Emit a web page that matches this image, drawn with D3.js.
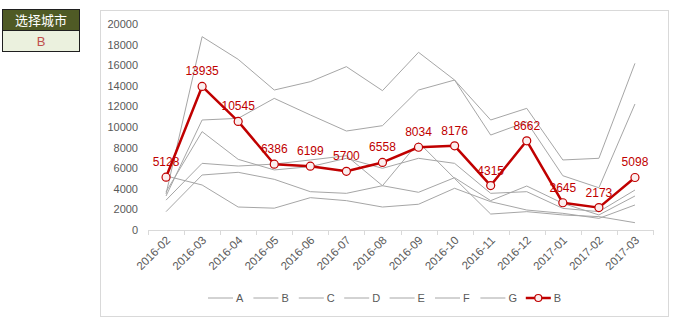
<!DOCTYPE html>
<html><head><meta charset="utf-8">
<script src="https://cdn.jsdelivr.net/npm/d3@7"></script>
<style>
html,body{margin:0;padding:0;background:#fff;}
svg{display:block;font-family:"Liberation Sans",Arial,sans-serif;}
</style></head>
<body><svg id="chart" width="686" height="329"></svg>
<script>
const categories = ["2016-02","2016-03","2016-04","2016-05","2016-06","2016-07","2016-08","2016-09","2016-10","2016-11","2016-12","2017-01","2017-02","2017-03"];
const seriesA = [3500,18770,16570,13590,14400,15860,13530,17250,14560,10680,11810,6800,6960,16180];
const seriesB = [5128,13935,10545,6386,6199,5700,6558,8034,8176,4315,8662,2645,2173,5098];
const seriesC = [3300,10680,10840,12780,11170,9610,10130,13590,14560,9220,10500,5270,4100,12230];
const seriesD = [3700,9550,6860,5830,6150,6960,5990,6960,6470,3560,3720,2100,1780,3880];
const seriesE = [2900,6470,6210,6400,6800,7210,4300,8510,5000,1550,1780,1460,1300,710];
const seriesF = [1780,5340,5600,4920,3720,3560,4300,3660,5080,2850,4270,2590,1460,3300];
const seriesG = [5250,4370,2230,2120,3140,2850,2230,2500,4050,2750,1940,1620,1130,2430];
const grayNames = ["A","B","C","D","E","F","G"];
const graySeries = [seriesA,seriesB,seriesC,seriesD,seriesE,seriesF,seriesG];
const selectedName = "B";
const selectedValues = seriesB;
const yTicks = [0,2000,4000,6000,8000,10000,12000,14000,16000,18000,20000];
const selectorTitle = "选择城市";

const svg = d3.select("#chart");

// selector box
const sel = svg.append("g");
sel.append("rect").attr("x",2.5).attr("y",9.5).attr("width",77).attr("height",21).attr("fill","#4f5a25");
sel.append("rect").attr("x",2.5).attr("y",30.5).attr("width",77).attr("height",21).attr("fill","#ebf1de");
sel.append("rect").attr("x",2.5).attr("y",9.5).attr("width",77).attr("height",42).attr("fill","none").attr("stroke","#1f1f1f").attr("stroke-width",1);
sel.append("line").attr("x1",2.5).attr("x2",79.5).attr("y1",30.5).attr("y2",30.5).attr("stroke","#1f1f1f");
sel.append("text").attr("x",41).attr("y",20.5).attr("dy","0.35em").attr("text-anchor","middle")
  .attr("fill","#fff").style("font-family","'Noto Sans CJK SC',sans-serif").style("font-size","13px").text(selectorTitle);
sel.append("text").attr("x",41).attr("y",41.5).attr("dy","0.35em").attr("text-anchor","middle")
  .attr("fill","#c0504d").style("font-size","13px").text(selectedName);

// chart border
svg.append("rect").attr("x",100.5).attr("y",10.5).attr("width",568).attr("height",306)
  .attr("fill","#fff").attr("stroke","#d9d9d9");

const x = d3.scaleBand().domain(categories).range([148,653]).padding(0);
const cx = d => x(d) + x.bandwidth()/2;
const y = d3.scaleLinear().domain([0,20000]).range([230,24]);

// y axis
const yAxis = svg.append("g").attr("transform","translate(138,0)")
  .call(d3.axisLeft(y).tickValues(yTicks).tickSize(0).tickPadding(0).tickFormat(d3.format("d")));
yAxis.select(".domain").remove();
yAxis.selectAll("text").attr("fill","#595959").style("font-size","11px").style("font-family","'Liberation Sans',Arial,sans-serif");

// x axis line and boundary ticks
const xg = svg.append("g");
xg.append("line").attr("x1",x.range()[0]).attr("x2",x.range()[1]).attr("y1",y(0)+0.5).attr("y2",y(0)+0.5).attr("stroke","#d9d9d9");
const bounds = categories.map(c => x(c)).concat([x.range()[1]]);
xg.selectAll("line.tk").data(bounds).join("line").attr("class","tk")
  .attr("x1",d=>Math.round(d)+0.5).attr("x2",d=>Math.round(d)+0.5).attr("y1",y(0)).attr("y2",y(0)+5).attr("stroke","#d9d9d9");
// x labels through axis
const xAxis = svg.append("g").attr("transform",`translate(0,${y(0)})`)
  .call(d3.axisBottom(x).tickSize(0).tickPadding(0));
xAxis.select(".domain").remove();
xAxis.selectAll("text")
  .attr("fill","#595959").style("font-size","11.5px").style("font-family","'Liberation Sans',Arial,sans-serif")
  .attr("text-anchor","end").attr("dy",null).attr("y",0)
  .attr("transform","translate(5,11) rotate(-45)");

const line = d3.line().x((d,i)=>cx(categories[i])).y(d=>y(d));

// gray lines
svg.append("g").selectAll("path").data(graySeries).join("path")
  .attr("d",line).attr("fill","none").attr("stroke","#a6a6a6").attr("stroke-width",1);

// selected series
svg.append("path").datum(selectedValues).attr("d",line).attr("fill","none")
  .attr("stroke","#c00000").attr("stroke-width",2.5).attr("stroke-linejoin","round");
svg.append("g").selectAll("circle").data(selectedValues).join("circle")
  .attr("cx",(d,i)=>cx(categories[i])).attr("cy",d=>y(d)).attr("r",4)
  .attr("fill","#fbeeee").attr("stroke","#c00000").attr("stroke-width",1.2);
svg.append("g").selectAll("text").data(selectedValues).join("text")
  .attr("x",(d,i)=>cx(categories[i])).attr("y",d=>y(d)-11)
  .attr("text-anchor","middle").attr("fill","#c00000").style("font-size","12px")
  .text(d=>d);

// legend
const legendItems = grayNames.map(n=>({name:n, sel:false})).concat([{name:selectedName, sel:true}]);
const lg = svg.append("g").attr("transform","translate(208,298)");
const step = 45.4;
legendItems.forEach((it,i)=>{
  const g = lg.append("g").attr("transform",`translate(${i*step},0)`);
  g.append("line").attr("x1",0).attr("x2",25).attr("y1",0).attr("y2",0)
    .attr("stroke", it.sel ? "#c00000" : "#a6a6a6").attr("stroke-width", it.sel ? 2.5 : 1);
  if(it.sel) g.append("circle").attr("cx",12.5).attr("cy",0).attr("r",3.5).attr("fill","#fbeeee").attr("stroke","#c00000").attr("stroke-width",1.2);
  g.append("text").attr("x",28).attr("y",0).attr("dy","0.35em").attr("fill","#595959").style("font-size","11px").text(it.name);
});
</script></body></html>
